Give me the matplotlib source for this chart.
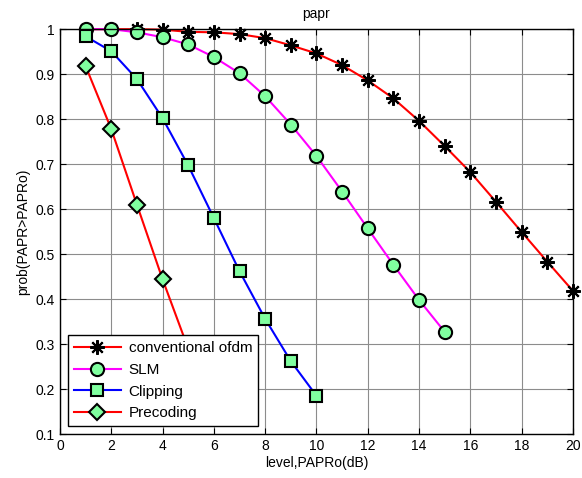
import matplotlib
matplotlib.use("Agg")
import matplotlib.pyplot as plt

plt.rcParams['font.family'] = ['Liberation Sans', 'DejaVu Sans']

x_conv = list(range(1, 21))
y_conv = [1.0, 1.0, 1.0, 0.999, 0.994, 0.993, 0.989, 0.98, 0.964, 0.946,
          0.92, 0.886, 0.846, 0.796, 0.74, 0.682, 0.616, 0.549, 0.483, 0.418]
x_slm = list(range(1, 16))
y_slm = [1.0, 1.0, 0.993, 0.982, 0.966, 0.938, 0.902, 0.851, 0.788, 0.718,
         0.639, 0.557, 0.476, 0.398, 0.327]
x_clip = list(range(1, 11))
y_clip = [0.984, 0.951, 0.889, 0.802, 0.697, 0.58, 0.462, 0.356, 0.262, 0.185]
x_prec = [1, 2, 3, 4, 5, 6]
y_prec = [0.918, 0.778, 0.61, 0.444, 0.29, 0.15]

labels = ['conventional ofdm', 'SLM', 'Clipping', 'Precoding']
xticks = list(range(0, 21, 2))
yticks = [0.1, 0.2, 0.3, 0.4, 0.5, 0.6, 0.7, 0.8, 0.9, 1.0]
ytick_labels = ['0.1', '0.2', '0.3', '0.4', '0.5', '0.6', '0.7', '0.8', '0.9', '1']

green = '#80FF9F'
fig = plt.figure(figsize=(5.82, 4.78), dpi=100)
ax = fig.add_axes([0.103, 0.092, 0.8815, 0.847])

lw = 1.5
ms = 9.5
lines = []
lines.append(ax.plot(x_conv, y_conv, color='red', lw=lw, marker=(8, 2, 0), ms=ms + 1,
                     mec='black', mew=1.5, label=labels[0], zorder=3)[0])
lines.append(ax.plot(x_slm, y_slm, color='magenta', lw=lw, marker='o', ms=ms,
                     mfc=green, mec='black', mew=1.5, label=labels[1], zorder=3)[0])
lines.append(ax.plot(x_clip, y_clip, color='blue', lw=lw, marker='s', ms=ms - 0.5,
                     mfc=green, mec='black', mew=1.5, label=labels[2], zorder=3)[0])
lines.append(ax.plot(x_prec, y_prec, color='red', lw=lw, marker='D', ms=ms - 1.5,
                     mfc=green, mec='black', mew=1.5, label=labels[3], zorder=3)[0])

ax.set_xlim(0, 20)
ax.set_ylim(0.1, 1.0)
ax.set_xticks(xticks)
ax.set_yticks(yticks)
ax.set_yticklabels(ytick_labels)
ax.grid(True, color='#8c8c8c', lw=0.8)
ax.tick_params(direction='in', top=True, right=True, labelsize=10, length=4)
for s in ax.spines.values():
    s.set_linewidth(1.0)
    s.set_zorder(4)
ax.set_title('papr', fontsize=10, pad=8)
ax.set_xlabel('level,PAPRo(dB)', fontsize=10, labelpad=2)
ax.set_ylabel('prob(PAPR>PAPRo)', fontsize=10, labelpad=4)

leg = ax.legend(loc='lower left', fontsize=11, framealpha=1, fancybox=False,
                edgecolor='black', borderaxespad=0.5, handlelength=3.1,
                handletextpad=0.5, labelspacing=0.5, borderpad=0.4)
leg.get_frame().set_linewidth(1.0)
leg.set_zorder(6)

for ln in lines:
    ln.set_clip_on(False)

fig.savefig('out.png', dpi=100)
